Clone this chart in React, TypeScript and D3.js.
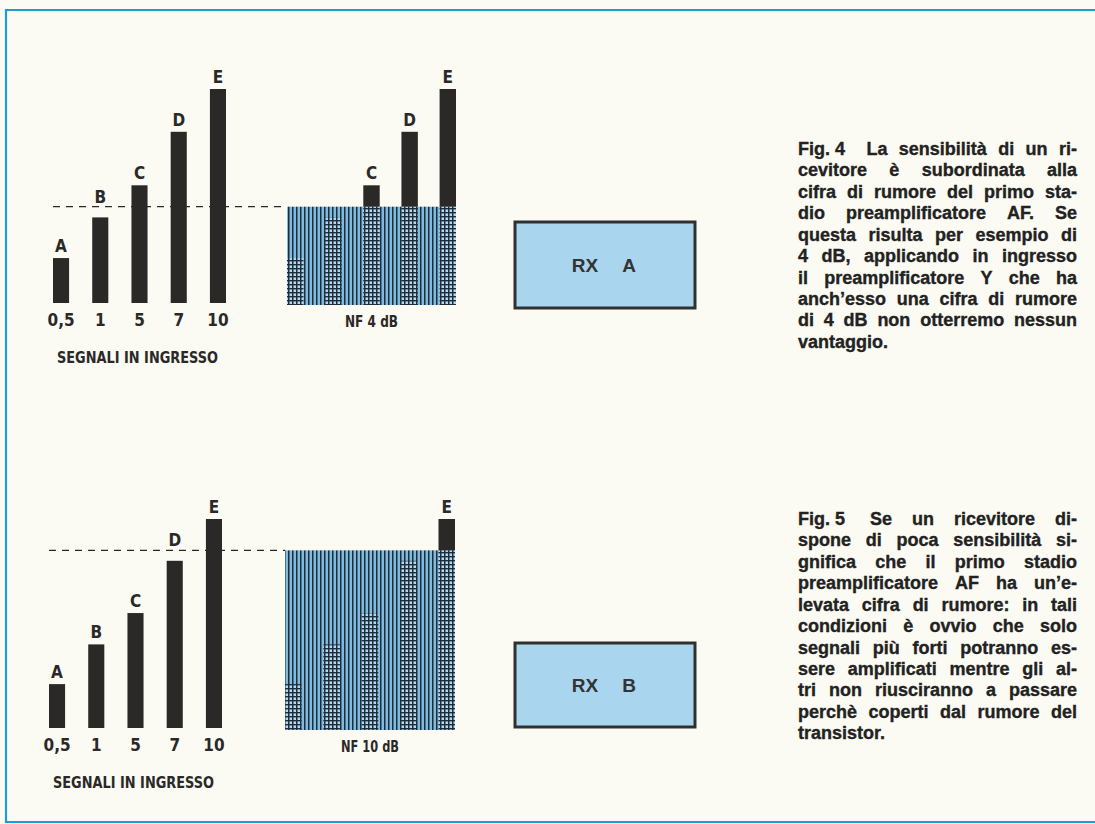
import React, { useEffect } from 'react';
import * as d3 from 'd3';

// ---------- data ----------
const signals = ['A', 'B', 'C', 'D', 'E'];
const inputLabels = ['0,5', '1', '5', '7', '10'];
const signalLevels = [2.1, 4.0, 5.5, 8.0, 10];
const noiseLevels = [4.5, 8.5];
const nfLabels = ['NF 4 dB', 'NF 10 dB'];
const rxLabels = ['A', 'B'];
const axisTitle = 'SEGNALI IN INGRESSO';
const caption4 = [
  'Fig.\u00a04\u00a0\u00a0 La sensibilità di un ri-',
  'cevitore è subordinata alla',
  'cifra di rumore del primo sta-',
  'dio preamplificatore AF. Se',
  'questa risulta per esempio di',
  '4 dB, applicando in ingresso',
  'il preamplificatore Y che ha',
  'anch’esso una cifra di rumore',
  'di 4 dB non otterremo nessun',
  'vantaggio.',
];
const caption5 = [
  'Fig.\u00a05\u00a0 Se un ricevitore di-',
  'spone di poca sensibilità si-',
  'gnifica che il primo stadio',
  'preamplificatore AF ha un’e-',
  'levata cifra di rumore: in tali',
  'condizioni è ovvio che solo',
  'segnali più forti potranno es-',
  'sere amplificati mentre gli al-',
  'tri non riusciranno a passare',
  'perchè coperti dal rumore del',
  'transistor.',
];
const captions = [caption4, caption5];

// ---------- styles ----------
const INK = '#2a2927';
const BORDER = '#1f9bd7';
const PAPER = '#fbfaf3';
const CAP_FONT_SIZE = 18;
const CAP_FONT = `bold ${CAP_FONT_SIZE}px 'Liberation Sans', Arial, sans-serif`;
const COND = "'Liberation Sans Narrow', 'DejaVu Sans Condensed', 'Roboto Condensed', 'Liberation Sans', sans-serif";

let measureCtx: CanvasRenderingContext2D | null = null;
function measure(s: string): number {
  if (!measureCtx && typeof document !== 'undefined') {
    measureCtx = document.createElement('canvas').getContext('2d');
  }
  if (!measureCtx) return s.length * 9;
  measureCtx.font = CAP_FONT;
  return measureCtx.measureText(s).width;
}

function Caption({ lines, x, y, width, lh }: { lines: string[]; x: number; y: number; width: number; lh: number }) {
  return (
    <g fill="#222" stroke="#222" strokeWidth={0.35} style={{ font: CAP_FONT }}>
      {lines.map((line, i) => {
        const last = i === lines.length - 1;
        const words = line.split(' ');
        const widths = words.map(measure);
        const total = widths.reduce((a, b) => a + b, 0);
        const gap = last || words.length < 2 ? measure(' ') : (width - total) / (words.length - 1);
        let cx = x;
        return (
          <text key={i} y={y + i * lh}>
            {words.map((w, j) => {
              const el = (
                <tspan key={j} x={cx}>
                  {w}
                </tspan>
              );
              cx += widths[j] + gap;
              return el;
            })}
          </text>
        );
      })}
    </g>
  );
}

const panels = [
  { barX0: 53, nfX0: 287, nfX1: 456, yBottom: 303, yTen: 89, rx: { x: 515, y: 222, w: 180, h: 86 }, capY: 155 },
  { barX0: 49, nfX0: 285, nfX1: 455, yBottom: 728, yTen: 519, rx: { x: 515, y: 643, w: 180, h: 84 }, capY: 525 },
];

function Panel({ idx }: { idx: number }) {
  const p = panels[idx];
  const noise = noiseLevels[idx];
  const y = d3.scaleLinear().domain([0, 10]).range([p.yBottom, p.yTen]);
  const xBars = d3
    .scaleBand<string>()
    .domain(signals)
    .range([p.barX0, p.barX0 + 173])
    .paddingInner(0.59)
    .paddingOuter(0);
  const xNf = d3
    .scaleBand<string>()
    .domain(signals)
    .range([p.nfX0, p.nfX1])
    .paddingInner(0.57)
    .paddingOuter(0);
  const yNoise = y(noise);
  const labelY = (top: number) => {
    let c = top - 12;
    if (Math.abs(c - yNoise) < 10) c = yNoise - 10;
    return c + 6;
  };
  const bw = xBars.bandwidth();
  const nbw = xNf.bandwidth();
  const lbl = { fontFamily: COND, fontWeight: 'bold' as const, fontSize: 17, fill: INK };
  return (
    <g>
      {/* dashed noise threshold */}
      <line
        x1={p.barX0}
        x2={p.nfX0}
        y1={yNoise}
        y2={yNoise}
        stroke={INK}
        strokeWidth={1.3}
        strokeDasharray="7,6"
      />
      {/* input signal bars */}
      {signals.map((s, i) => (
        <rect key={s} x={xBars(s)} y={y(signalLevels[i])} width={bw} height={p.yBottom - y(signalLevels[i])} fill={INK} />
      ))}
      {signals.map((s, i) => (
        <text key={'l' + s} x={(xBars(s) as number) + bw / 2} y={labelY(y(signalLevels[i]))} textAnchor="middle" {...lbl}>
          {s}
        </text>
      ))}
      {inputLabels.map((t, i) => (
        <text key={'t' + t} x={(xBars(signals[i]) as number) + bw / 2} y={p.yBottom + 23} textAnchor="middle" {...lbl}>
          {t}
        </text>
      ))}
      <text
        x={p.barX0 + 4}
        y={p.yBottom + 60}
        {...lbl}
        fontSize={16}
        textLength={161}
        lengthAdjust="spacingAndGlyphs"
      >
        {axisTitle}
      </text>
      {/* noise block */}
      <rect x={p.nfX0} y={yNoise} width={p.nfX1 - p.nfX0} height={p.yBottom + 2 - yNoise} fill="url(#stripes)" />
      {signals.map((s, i) => {
        const top = y(signalLevels[i]);
        const gridTop = Math.max(top, yNoise);
        return (
          <g key={'nf' + s}>
            <rect x={xNf(s)} y={gridTop} width={nbw} height={p.yBottom + 2 - gridTop} fill="url(#grid)" />
            {top < yNoise && <rect x={xNf(s)} y={top} width={nbw} height={yNoise - top} fill={INK} />}
            {top < yNoise && (
              <text x={(xNf(s) as number) + nbw / 2} y={top - 6} textAnchor="middle" {...lbl}>
                {s}
              </text>
            )}
          </g>
        );
      })}
      <text
        x={(p.nfX0 + p.nfX1) / 2}
        y={p.yBottom + 24}
        textAnchor="middle"
        {...lbl}
        fontSize={16}
        textLength={idx === 0 ? 53 : 58}
        lengthAdjust="spacingAndGlyphs"
      >
        {nfLabels[idx]}
      </text>
      {/* receiver block */}
      <rect x={p.rx.x} y={p.rx.y} width={p.rx.w} height={p.rx.h} fill="#a9d5ef" stroke="#303030" strokeWidth={3} />
      <text
        x={p.rx.x + p.rx.w / 2 - 20}
        y={p.rx.y + p.rx.h / 2 + 7}
        textAnchor="middle"
        fontFamily="'Liberation Sans', Arial, sans-serif"
        fontWeight="bold"
        fontSize={19}
        fill="#333"
      >
        RX
      </text>
      <text
        x={p.rx.x + p.rx.w / 2 + 24}
        y={p.rx.y + p.rx.h / 2 + 7}
        textAnchor="middle"
        fontFamily="'Liberation Sans', Arial, sans-serif"
        fontWeight="bold"
        fontSize={19}
        fill="#333"
      >
        {rxLabels[idx]}
      </text>
      <Caption lines={captions[idx]} x={798} y={p.capY} width={279} lh={21.43} />
    </g>
  );
}

export default function App() {
  useEffect(() => {
    document.body.style.margin = '0';
  }, []);
  return (
    <svg width={1095} height={824} style={{ display: 'block', background: PAPER }}>
      <defs>
        <pattern id="stripes" patternUnits="userSpaceOnUse" width={4} height={4}>
          <rect width={4} height={4} fill="#80badf" />
          <rect x={0} width={1.5} height={4} fill="#1d2d3a" />
        </pattern>
        <pattern id="grid" patternUnits="userSpaceOnUse" width={4} height={4}>
          <rect width={4} height={4} fill="#b5d8ee" />
          <rect x={0} width={1.5} height={4} fill="#1d2d3a" />
          <rect y={0} width={4} height={1.4} fill="#1d2d3a" />
        </pattern>
      </defs>
      <rect width={1095} height={824} fill={PAPER} />
      {/* page frame */}
      <line x1={5} x2={1095} y1={10} y2={10} stroke={BORDER} strokeWidth={2.2} />
      <line x1={6} x2={6} y1={9} y2={823} stroke={BORDER} strokeWidth={2.2} />
      <line x1={5} x2={1095} y1={822} y2={822} stroke={BORDER} strokeWidth={2.2} />
      <Panel idx={0} />
      <Panel idx={1} />
    </svg>
  );
}
